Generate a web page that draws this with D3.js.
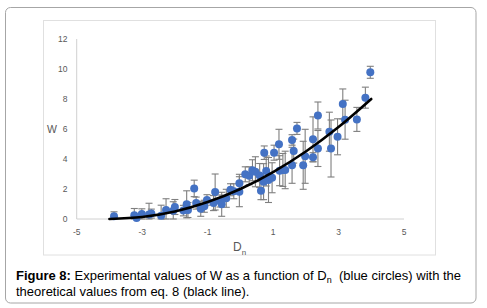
<!DOCTYPE html>
<html><head><meta charset="utf-8">
<script src="https://cdn.jsdelivr.net/npm/d3@7"></script>
<style>
html,body{margin:0;padding:0;background:#fff;}
svg{display:block;}
</style></head>
<body>
<script>
// ---- data ----
const dnValues = [-3.86,-3.24,-3.17,-3.01,-2.79,-2.72,-2.42,-2.27,-2.05,-2.00,-1.74,-1.64,-1.60,-1.41,-1.35,-1.21,-1.10,-1.02,-0.82,-0.77,-0.62,-0.57,-0.43,-0.30,-0.20,-0.03,-0.03,0.15,0.27,0.37,0.46,0.59,0.63,0.71,0.73,0.79,0.86,0.97,1.03,1.18,1.20,1.30,1.37,1.58,1.58,1.63,1.73,1.92,1.98,2.22,2.22,2.37,2.37,2.72,2.77,2.97,3.13,3.20,3.56,3.82,3.97];
const wValues  = [0.18,0.25,0.06,0.33,0.30,0.36,0.22,0.60,0.55,0.80,0.56,0.98,0.60,2.04,1.06,0.68,0.85,1.27,1.06,1.80,1.20,0.98,1.38,1.95,1.85,2.38,1.82,2.98,2.88,3.25,3.15,2.90,1.89,2.49,4.42,3.20,2.60,2.75,4.42,4.98,3.22,3.27,3.27,5.27,3.58,4.53,6.04,3.58,4.18,5.31,4.12,6.90,4.70,5.82,4.70,5.48,7.67,6.62,6.64,8.09,9.78];
const wErrors  = [0.30,0.45,0.20,0.35,0.75,0.30,0.70,0.75,0.60,0.50,0.35,0.90,0.50,0.55,0.40,0.50,0.40,0.35,0.50,1.20,0.40,0.80,0.60,0.40,0.50,0.60,1.00,0.50,0.60,0.70,1.00,0.80,0.60,1.20,0.45,1.00,1.50,1.00,0.50,1.00,1.00,1.10,1.25,0.35,1.20,0.80,0.40,1.60,1.80,1.50,0.30,0.90,1.20,1.30,1.90,1.20,1.00,1.30,0.80,0.70,0.40];
const curveDn = [-4,-3,-2,-1,0,1,2,3,4];
const curveW  = [0,0.13,0.5,1.13,2,3.13,4.5,6.13,8];
const xTicks = [-5,-3,-1,1,3,5];
const yTicks = [0,2,4,6,8,10,12];

const W = 487, H = 308;
const svg = d3.select("body").append("svg").attr("width", W).attr("height", H);

// outer frame
svg.append("rect").attr("x",5.5).attr("y",7.5).attr("width",470.5).attr("height",295.5)
  .attr("rx",5).attr("fill","#fff").attr("stroke","#a6a6a6").attr("stroke-width",1);
// chart area frame
svg.append("rect").attr("x",43.5).attr("y",20.5).attr("width",392).attr("height",234.5)
  .attr("fill","#fff").attr("stroke","#e0e0e0").attr("stroke-width",1);

const x = d3.scaleLinear().domain([-5,5]).range([76.7,404]);
const y = d3.scaleLinear().domain([0,12]).range([219,39]);

// axis lines
svg.append("line").attr("x1",x(-5)).attr("x2",x(-5)).attr("y1",y(12)).attr("y2",y(0))
  .attr("stroke","#d0d0d0");
svg.append("line").attr("x1",x(-5)).attr("x2",x(5)).attr("y1",y(0)).attr("y2",y(0))
  .attr("stroke","#d0d0d0");

const font = "'Liberation Sans', Arial, sans-serif";
// y tick labels
svg.append("g").selectAll("text").data(yTicks).join("text")
  .attr("x",67.5).attr("y",d=>y(d)+3.2).attr("text-anchor","end")
  .attr("font-family",font).attr("font-size",8.5).attr("fill","#595959").text(d=>d);
// x tick labels
svg.append("g").selectAll("text").data(xTicks).join("text")
  .attr("x",d=>x(d)).attr("y",235).attr("text-anchor","middle")
  .attr("font-family",font).attr("font-size",8.5).attr("fill","#595959").text(d=>d);

// axis titles
svg.append("text").attr("x",52).attr("y",133).attr("text-anchor","middle")
  .attr("font-family",font).attr("font-size",10.5).attr("fill","#595959").text("W");
const xt = svg.append("text").attr("x",233).attr("y",251)
  .attr("font-family",font).attr("font-size",12).attr("fill","#595959");
xt.append("tspan").text("D");
xt.append("tspan").attr("font-size",8).attr("dy",3.5).text("n");

// data
const pts = dnValues.map((d,i)=>({dn:d, w:wValues[i], e:wErrors[i]}));

// error bars
const eb = svg.append("g").attr("stroke","#7f7f7f").attr("stroke-width",1.1).attr("fill","none");
pts.forEach(p=>{
  const cx = x(p.dn), y1 = y(p.w + p.e), y2 = y(Math.max(0,p.w - p.e));
  eb.append("line").attr("x1",cx).attr("x2",cx).attr("y1",y1).attr("y2",y2);
  eb.append("line").attr("x1",cx-3.5).attr("x2",cx+3.5).attr("y1",y1).attr("y2",y1);
  eb.append("line").attr("x1",cx-3.5).attr("x2",cx+3.5).attr("y1",y2).attr("y2",y2);
});

// points
svg.append("g").selectAll("circle").data(pts).join("circle")
  .attr("cx",d=>x(d.dn)).attr("cy",d=>y(d.w)).attr("r",4)
  .attr("fill","#4472c4");

// theoretical curve
const line = d3.line().x(d=>x(d[0])).y(d=>y(d[1])).curve(d3.curveMonotoneX);
svg.append("path").datum(curveDn.map((d,i)=>[d,curveW[i]]))
  .attr("d",line).attr("fill","none").attr("stroke","#000").attr("stroke-width",2.6)
  .attr("stroke-linecap","round");

// caption
const cap1 = svg.append("text").attr("x",16).attr("y",280)
  .attr("font-family",font).attr("font-size",13).attr("fill","#000");
cap1.append("tspan").attr("font-weight","bold").text("Figure 8:");
cap1.append("tspan").text(" Experimental values of W as a function of D");
cap1.append("tspan").attr("font-size",9).attr("dy",3).text("n");
cap1.append("tspan").attr("dy",-3).attr("xml:space","preserve").text("\u00a0 (blue circles) with the");
svg.append("text").attr("x",16).attr("y",296)
  .attr("font-family",font).attr("font-size",13).attr("fill","#000")
  .text("theoretical values from eq. 8 (black line).");
</script>
</body></html>
